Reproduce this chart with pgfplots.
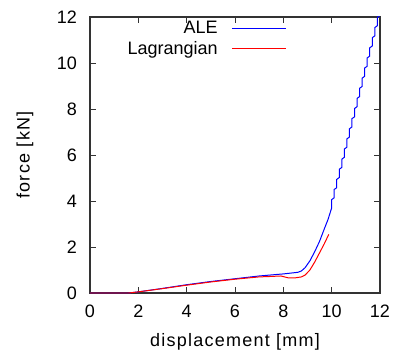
\documentclass[border=0pt]{standalone}
\usepackage{pgfplots}
\pgfplotsset{compat=1.18}
\usepackage{fontspec}
\setmainfont{Liberation Sans}
\newfontfamily\labelfont[LetterSpace=7]{Liberation Sans}
\begin{document}
\fontsize{18bp}{21bp}\selectfont
\begin{tikzpicture}
\begin{axis}[
  scale only axis,
  width=290bp, height=276bp,
  xmin=0, xmax=12, ymin=0, ymax=12,
  xtick={0,2,...,12}, ytick={0,2,...,12},
  tick align=inside,
  major tick length=6bp,
  axis line style={line width=1.2pt, black!80},
  every tick/.style={black!80, line width=0.7pt},
  /pgf/number format/assume math mode=true,
  tick label style={font=\fontsize{18bp}{21bp}\selectfont},
  yticklabel style={xshift=-7bp},
  xticklabel style={yshift=-6bp},
  label style={font=\labelfont\fontsize{18bp}{21bp}\selectfont},
  xlabel={displacement [mm]},
  ylabel={force [kN]},
  xlabel style={at={(axis description cs:0.5,-0.178)}, anchor=center},
  ylabel style={at={(axis description cs:-0.224,0.5)}, anchor=center},
  clip=true,
  legend plot pos=right,
  legend cell align=right,
  legend style={draw=none, fill=none, at={(0.679,0.99)}, anchor=north east,
    font=\fontsize{18bp}{21bp}\selectfont, inner sep=0pt, row sep=3bp,
    nodes={inner sep=1bp}},
  legend image code/.code={\path (0,0); \draw[#1] (13bp,0) -- (67bp,0);},
]
\coordinate (sw) at (rel axis cs:0,0);
\coordinate (ne) at (rel axis cs:1,1);
\addplot[blue, line width=1pt] coordinates {
(0,0) (1.6,0) (2,0.05) (3,0.2) (4,0.36) (5,0.5) (6,0.62) (7,0.74) (8,0.83)
(8.6,0.9) (8.75,0.96) (8.9,1.1) (9.1,1.4) (9.3,1.8) (9.5,2.25) (9.7,2.8) (9.85,3.2)
(10.000,3.70) (10.000,4.06)
(10.105,4.14) (10.105,4.50)
(10.210,4.58) (10.210,4.94)
(10.315,5.02) (10.315,5.38)
(10.420,5.46) (10.420,5.82)
(10.525,5.90) (10.525,6.26)
(10.630,6.34) (10.630,6.70)
(10.735,6.78) (10.735,7.14)
(10.840,7.22) (10.840,7.58)
(10.945,7.66) (10.945,8.02)
(11.050,8.10) (11.050,8.46)
(11.155,8.54) (11.155,8.90)
(11.260,8.98) (11.260,9.34)
(11.365,9.42) (11.365,9.78)
(11.470,9.86) (11.470,10.22)
(11.575,10.30) (11.575,10.66)
(11.680,10.74) (11.680,11.10)
(11.785,11.18) (11.785,11.54)
(11.890,11.62) (11.890,11.98)
(11.995,12.06)
};
\addlegendentry{ALE}
\addplot[red, line width=1pt] coordinates {
(0,0) (1.6,0) (2,0.05) (3,0.19) (4,0.34) (5,0.48) (6,0.6) (7,0.7) (7.5,0.72)
(7.9,0.74) (8.05,0.7) (8.2,0.66) (8.5,0.66) (8.75,0.7) (8.9,0.78) (9.1,1.0)
(9.3,1.35) (9.5,1.75) (9.7,2.15) (9.88,2.55)
};
\addlegendentry{Lagrangian}
\end{axis}
\pgfresetboundingbox
\path[use as bounding box] ([xshift=-90bp,yshift=-62bp]sw) rectangle ([xshift=18bp,yshift=17bp]ne);
\end{tikzpicture}
\end{document}
